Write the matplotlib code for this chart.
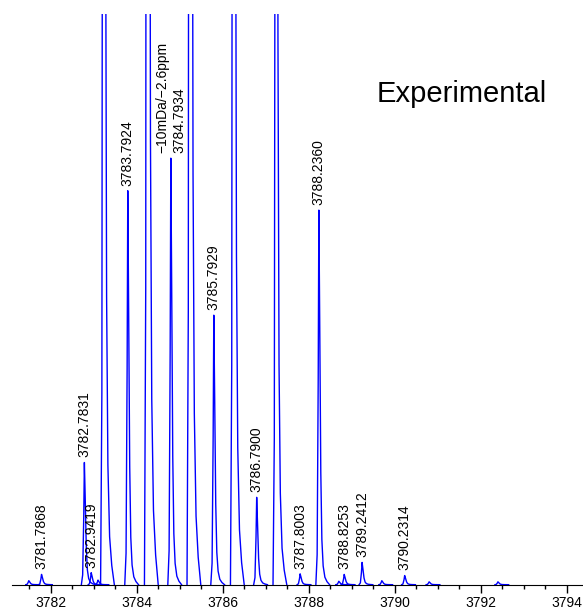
import numpy as np
import matplotlib.pyplot as plt

plt.rcParams['font.family'] = ['Liberation Sans', 'DejaVu Sans']

# peak centres (m/z) and heights (% of visible range, >100 is clipped)
peak_mz = [3781.49, 3781.7868, 3782.7831, 3782.9419, 3783.10, 3783.23,
           3783.7924, 3784.25, 3784.7934, 3785.24, 3785.7929, 3786.25,
           3786.7900, 3787.24, 3787.8003, 3788.2360, 3788.70, 3788.8253,
           3789.2412, 3789.70, 3790.2314, 3790.80, 3792.40]
peak_height = [0.7, 1.8, 21.4, 2.1, 0.8, 420,
               69.0, 650, 74.7, 600, 47.2, 480,
               15.3, 320, 1.9, 65.6, 0.6, 1.8,
               3.9, 0.7, 1.6, 0.5, 0.5]

# annotated peaks
label_mz = [3781.7868, 3782.7831, 3782.9419, 3783.7924, 3784.7934, 3785.7929,
            3786.7900, 3787.8003, 3788.2360, 3788.8253, 3789.2412, 3790.2314]
label_height = [1.8, 21.4, 2.1, 69.0, 74.7, 47.2, 15.3, 1.9, 65.6, 1.8, 3.9, 1.6]
label_text = ['3781.7868', '3782.7831', '3782.9419', '3783.7924',
              '\u221210mDa/\u22122.6ppm\n3784.7934', '3785.7929', '3786.7900',
              '3787.8003', '3788.2360', '3788.8253', '3789.2412', '3790.2314']

# peak shape (relative offsets / relative heights) with a tail to the right
shape_dx = np.array([-0.07, -0.04, -0.015, 0.0, 0.02, 0.045, 0.07, 0.1, 0.14, 0.19, 0.25])
shape_rel = np.array([0.0, 0.08, 0.55, 1.0, 0.7, 0.3, 0.12, 0.05, 0.02, 0.008, 0.0])

fig = plt.figure(figsize=(5.83, 6.10), dpi=100)
ax = fig.add_axes([0.0211, 0.0415, 0.979, 0.936])

for c, h in zip(peak_mz, peak_height):
    ax.plot(c + shape_dx, h * shape_rel, color='#0000ff', linewidth=1.0)

for c, h, t in zip(label_mz, label_height, label_text):
    ax.text(c, h + 0.9, t, rotation=90, ha='center', va='bottom',
            multialignment='left', fontsize=10)

ax.text(3789.59, 84.5, 'Experimental', fontsize=21, ha='left', va='baseline')

ax.set_xlim(3781.107, 3794.38)
ax.set_ylim(0, 100)
ax.set_xticks(np.arange(3782, 3795, 2))
ax.set_xticks(np.arange(3781.5, 3794.5, 0.5), minor=True)
ax.tick_params(axis='x', which='major', length=6, width=1, labelsize=10, pad=2)
ax.tick_params(axis='x', which='minor', length=3, width=1)
ax.set_yticks([])
for s in ['top', 'right', 'left']:
    ax.spines[s].set_visible(False)

fig.savefig('out.png', dpi=100)
